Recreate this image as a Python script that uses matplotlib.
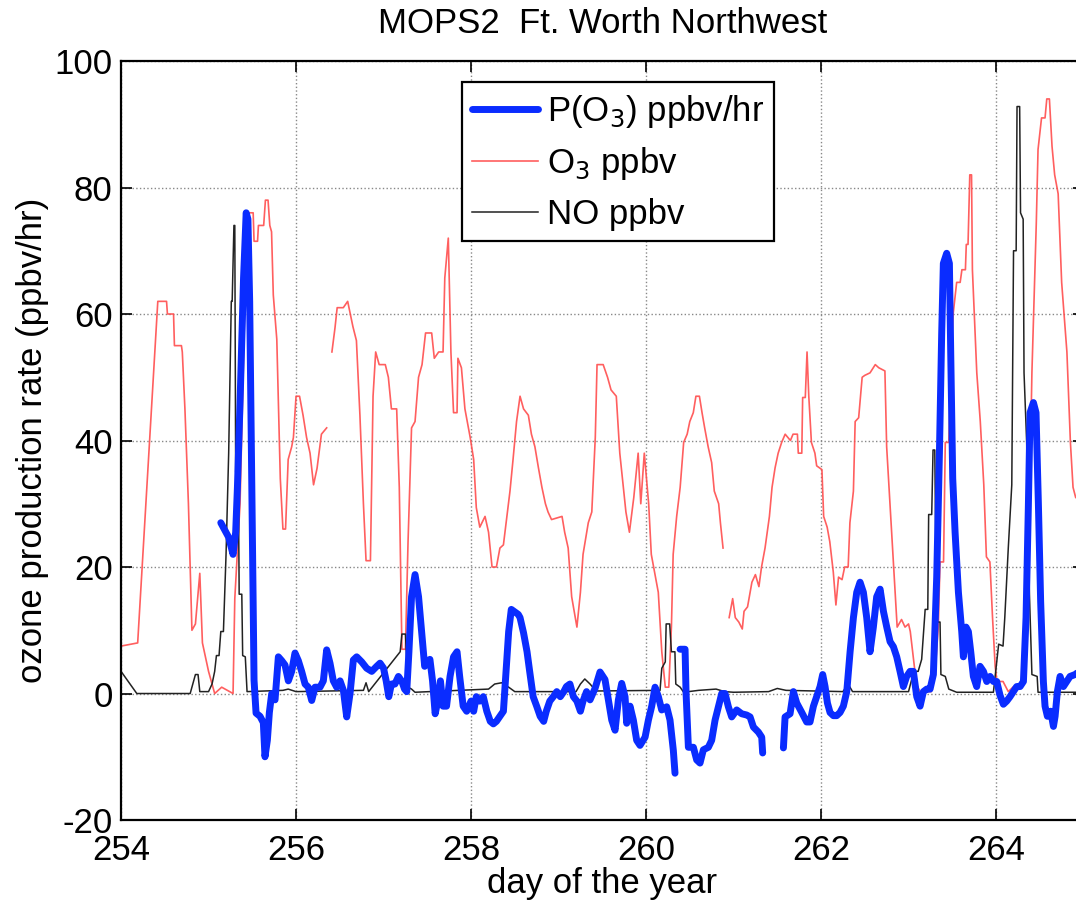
import numpy as np
import matplotlib
matplotlib.use("Agg")
import matplotlib.pyplot as plt

nan = np.nan

# O3 (ppbv), red thin line
o3_day = [254.00, 254.19, 254.42, 254.52, 254.53, 254.60, 254.61, 254.69, 254.70, 254.73,
          254.77, 254.81, 254.85, 254.90, 254.93, 255.00, 255.05, 255.07, 255.15, 255.28,
          255.30, 255.36, 255.44, 255.51, 255.52, 255.56, 255.57, 255.63, 255.65, 255.68,
          255.70, 255.72, 255.74, 255.78, 255.82, 255.85, 255.88, 255.91, 255.95, 255.97,
          256.00, 256.04, 256.08, 256.12, 256.16, 256.20, 256.24, 256.29, 256.35, 256.38,
          256.41, 256.445, 256.47, 256.54, 256.59, 256.62, 256.65, 256.69, 256.73, 256.77,
          256.80, 256.85, 256.88, 256.91, 256.95, 257.02, 257.055, 257.09, 257.15, 257.18,
          257.21, 257.25, 257.28, 257.32, 257.36, 257.40, 257.44, 257.48, 257.55, 257.58,
          257.63, 257.68, 257.70, 257.74, 257.77, 257.80, 257.84, 257.85, 257.89, 257.93,
          257.99, 258.03, 258.06, 258.10, 258.16, 258.20, 258.24, 258.29, 258.33, 258.37,
          258.41, 258.445, 258.48, 258.52, 258.56, 258.60, 258.655, 258.69, 258.73, 258.77,
          258.81, 258.85, 258.88, 258.92, 259.04, 259.07, 259.11, 259.15, 259.21, 259.25,
          259.28, 259.34, 259.38, 259.42, 259.44, 259.51, 259.56, 259.60, 259.66, 259.70,
          259.74, 259.77, 259.81, 259.86, 259.91, 259.94, 259.98, 260.03, 260.06, 260.10,
          260.14, 260.18, 260.22, 260.26, 260.29, 260.31, 260.35, 260.39, 260.43, 260.47,
          260.50, 260.54, 260.57, 260.61, 260.64, 260.67, 260.71, 260.75, 260.78, 260.83,
          260.85, 260.88, 260.92, 260.95, 260.99, 261.02, 261.06, 261.10, 261.12, 261.16,
          261.21, 261.25, 261.29, 261.32, 261.36, 261.41, 261.44, 261.475, 261.51, 261.55,
          261.59, 261.65, 261.68, 261.73, 261.74, 261.78, 261.79, 261.82, 261.84, 261.86,
          261.89, 261.93, 261.95, 262.01, 262.03, 262.07, 262.10, 262.14, 262.17, 262.20,
          262.24, 262.27, 262.31, 262.33, 262.37, 262.39, 262.43, 262.47, 262.50, 262.56,
          262.62, 262.66, 262.73, 262.75, 262.79, 262.83, 262.87, 262.92, 262.96, 263.00,
          263.02, 263.06, 263.09, 263.13, 263.26, 263.30, 263.34, 263.36, 263.40, 263.42,
          263.46, 263.49, 263.51, 263.55, 263.59, 263.61, 263.65, 263.66, 263.68, 263.70,
          263.72, 263.73, 263.78, 263.82, 263.86, 263.89, 263.93, 263.96, 263.99, 264.01,
          264.08, 264.14, 264.20, 264.27, 264.31, 264.35, 264.38, 264.41, 264.46, 264.48,
          264.52, 264.56, 264.58, 264.61, 264.64, 264.67, 264.71, 264.75, 264.81, 264.85,
          264.88, 264.91, 265.00]
o3_ppbv = [7.5, 8, 62, 62, 60, 60, 55, 55, 54, 45,
           30, 10, 11, 19, 8, 3.5, 1, 0, 1, 0,
           15, 30, 76, 76, 71.5, 71.5, 74, 74, 78, 78,
           74, 73, 63, 56, 34, 26, 26, 37, 39, 40.5,
           47, 47, 44, 40.5, 38, 33, 35.6, 41, 42, nan,
           54, 57.8, 61, 61, 62, 60, 58, 55.8, 44, 30,
           21, 21, 47, 54, 52, 52, 50, 45, 45, 32.6,
           7, 7, 24, 42, 43, 50, 52, 57, 57, 53,
           54, 54, 65.7, 72, 54, 44.4, 44.4, 53, 51.5, 45,
           40.5, 37, 29.4, 26.3, 28, 25.5, 20, 20, 23, 23.5,
           28, 32, 37, 43, 47, 45, 44, 41, 39, 35.7,
           32.6, 30, 28.7, 27.5, 28, 25.5, 23, 15.3, 10.5, 16,
           22, 27, 28.7, 40.5, 52, 52, 50, 48, 47, 38,
           32.6, 28.7, 25.5, 31, 38, 30, 38, 30, 22, 19,
           16, 6.6, 1, 1, 10.5, 22, 28, 32.6, 39.7, 41,
           43, 44.4, 47, 47, 44.4, 42, 39, 36.5, 32, 30,
           27, 23, nan, 12, 15, 12, 11.3, 10.2, 13, 13.7,
           17.6, 18.8, 16.9, 20, 23, 28, 32.6, 35.7, 38, 39.7,
           41, 40, 41, 41, 38, 38, 46.8, 46.8, 54, 47,
           39.7, 38, 36, 35.4, 28, 26.3, 24, 19.2, 14, 18.4,
           18, 20, 20, 27, 32, 43, 43.6, 50, 50.3, 50.7,
           52, 51.5, 51, 39, 29.4, 20, 10.5, 11.7, 10.5, 11,
           9.8, 5, 1.5, 0.3, 0.3, 2.7, 10.5, 20.8, 20.8, 39.7,
           39.7, 54, 60, 65, 65, 67, 67, 71, 71, 82,
           82, 67, 50.7, 43, 33, 21.6, 20.8, 12, 4.3, 1.9,
           1.9, 0.3, 1.1, 1.1, 1.9, 13.7, 28, 50.7, 74.3, 86,
           91, 91, 94, 94, 86.5, 82, 79, 65, 54, 39.7,
           32.6, 31, 30]

# NO (ppbv), black thin line
no_day = [254.00, 254.18, 254.79, 254.83, 254.85, 254.88, 254.90, 255.00, 255.04, 255.07,
          255.09, 255.12, 255.14, 255.17, 255.20, 255.23, 255.26, 255.27, 255.29, 255.30,
          255.31, 255.34, 255.35, 255.38, 255.39, 255.42, 255.44, 255.85, 255.91, 256.00,
          256.77, 256.80, 256.83, 257.19, 257.21, 257.25, 257.28, 257.32, 257.36, 258.20,
          258.27, 258.35, 258.43, 258.50, 259.20, 259.25, 259.30, 259.36, 259.43, 260.16,
          260.18, 260.22, 260.23, 260.27, 260.29, 260.33, 260.34, 260.39, 260.43, 260.60,
          260.80, 260.90, 261.00, 261.40, 261.50, 261.60, 262.25, 262.31, 262.36, 263.00,
          263.06, 263.11, 263.15, 263.19, 263.22, 263.23, 263.265, 263.28, 263.30, 263.32,
          263.36, 263.37, 263.42, 263.46, 263.55, 263.97, 264.03, 264.08, 264.10, 264.14,
          264.18, 264.20, 264.23, 264.24, 264.27, 264.28, 264.31, 264.32, 264.35, 264.38,
          264.41, 264.47, 264.48, 265.00]
no_ppbv = [3.5, 0, 0, 2, 3, 3, 0.3, 0.3, 1.5, 3.5,
           6, 6, 9.8, 9.8, 22, 38, 62, 62, 74, 74,
           35, 35, 15.7, 15.7, 6, 5.8, 0.3, 0.5, 0.7, 0.3,
           0.5, 1.7, 0.3, 6.6, 9.4, 9.4, 1, 0.7, 0.2, 0.7,
           1.5, 1.7, 1, 0.3, 0.3, 1.5, 2.3, 1.5, 0.4, 0.5,
           4, 5, 11, 11, 6.6, 6.6, 1.5, 1, 0.2, 0.5,
           0.7, 0.3, 0.2, 0.3, 0.8, 0.5, 0.3, 1.5, 0.3, 0.3,
           3.5, 3.5, 5.4, 13.3, 13.3, 28.3, 28.3, 38.5, 38.5, 11.3,
           11.3, 3, 2.7, 0.7, 0.2, 0.2, 7.8, 7.5, 12, 23,
           33, 70, 70, 92.8, 92.8, 76, 75, 50.7, 39.7, 16.5,
           3, 2.7, 0.2, 0.2]

# P(O3) (ppbv/hr), thick blue line
po3_day = [255.14, 255.23, 255.28, 255.31, 255.33, 255.36, 255.40, 255.43, 255.45, 255.47,
           255.49, 255.51, 255.52, 255.543, 255.588, 255.626, 255.645, 255.672, 255.695, 255.722,
           255.76, 255.798, 255.836, 255.874, 255.912, 255.95, 255.988, 256.026, 256.064, 256.103,
           256.14, 256.179, 256.217, 256.274, 256.312, 256.35, 256.388, 256.426, 256.464, 256.503,
           256.541, 256.579, 256.617, 256.655, 256.693, 256.75, 256.807, 256.865, 256.922, 256.96,
           257.00, 257.03, 257.06, 257.09, 257.13, 257.17, 257.21, 257.24, 257.265, 257.29,
           257.32, 257.36, 257.40, 257.44, 257.47, 257.49, 257.53, 257.56, 257.59, 257.62,
           257.65, 257.68, 257.72, 257.76, 257.80, 257.84, 257.87, 257.91, 257.95, 258.00,
           258.03, 258.06, 258.10, 258.14, 258.18, 258.22, 258.255, 258.29, 258.33, 258.37,
           258.396, 258.43, 258.46, 258.50, 258.54, 258.56, 258.60, 258.64, 258.67, 258.71,
           258.75, 258.79, 258.83, 258.86, 258.90, 258.94, 258.98, 259.02, 259.06, 259.09,
           259.13, 259.17, 259.21, 259.25, 259.28, 259.32, 259.36, 259.417, 259.474, 259.531,
           259.57, 259.608, 259.646, 259.684, 259.722, 259.76, 259.779, 259.817, 259.855, 259.893,
           259.931, 259.989, 260.027, 260.065, 260.103, 260.141, 260.179, 260.236, 260.274, 260.312,
           260.331, 260.36, 260.389, 260.446, 260.457, 260.484, 260.541, 260.579, 260.617, 260.655,
           260.712, 260.75, 260.789, 260.827, 260.865, 260.903, 260.941, 260.979, 261.036, 261.093,
           261.15, 261.189, 261.227, 261.284, 261.322, 261.333, 261.45, 261.57, 261.589, 261.646,
           261.684, 261.722, 261.78, 261.836, 261.874, 261.913, 261.95, 261.989, 262.019, 262.046,
           262.073, 262.103, 262.141, 262.179, 262.217, 262.255, 262.294, 262.332, 262.37, 262.408,
           262.446, 262.484, 262.522, 262.56, 262.598, 262.636, 262.675, 262.713, 262.751, 262.789,
           262.827, 262.865, 262.903, 262.941, 262.979, 263.017, 263.055, 263.094, 263.132, 263.17,
           263.208, 263.246, 263.284, 263.322, 263.353, 263.379, 263.398, 263.436, 263.467, 263.482,
           263.505, 263.532, 263.57, 263.608, 263.627, 263.657, 263.684, 263.711, 263.741, 263.779,
           263.817, 263.856, 263.894, 263.932, 263.97, 264.008, 264.046, 264.084, 264.122, 264.16,
           264.198, 264.236, 264.275, 264.313, 264.343, 264.37, 264.389, 264.427, 264.457, 264.484,
           264.51, 264.541, 264.56, 264.587, 264.625, 264.656, 264.675, 264.701, 264.732, 264.77,
           264.808, 264.846, 264.903, 265.00]
po3_rate = [27, 24.7, 22, 25.5, 32.6, 46, 65.7, 76, 75, 62,
            38, 14.5, 2.1, -3.1, -3.6, -4.6, -10, -7.4, -3, 0,
            -1, 5.8, 5.2, 4.5, 2, 3.5, 6.4, 5.2, 3.5, 1.5,
            1, -1.1, 1, 1, 2, 6.9, 4.8, 2, 1, 2,
            0.5, -3.7, 0, 5.3, 5.8, 5, 4, 3.5, 4.3, 4.8,
            4, 2, -0.5, 1.5, 1.5, 2.7, 1.9, 0.7, 0.3, 6.6,
            15.3, 18.8, 15.3, 9, 4.3, 5, 5.4, 2, -3.2, -1.2,
            2, -2, -2, 2.7, 5.8, 6.6, 2.7, -2, -2.8, -1.2,
            -2.8, -0.5, -1.2, -0.5, -2.8, -4.4, -4.8, -4.4, -3.6, -2.8,
            2.7, 9.8, 13.3, 12.9, 12.5, 12, 9.6, 6.6, 3.5, -0.5,
            -2, -3.6, -4.4, -2.8, -1.2, -0.5, 0.3, -0.5, 0.3, 1.1,
            1.5, -0.5, -1.2, -2.8, -1.2, 0.3, -1, 0.8, 3.4, 2.2,
            -1, -4.2, -5.8, -1, 1.6, -0.5, -4.7, -2, -4.2, -7.4,
            -8.2, -6.9, -4.2, -2, 1, -0.5, -2.6, -2.1, -4.2, -9,
            -12.6, nan, 7, 7, 0.2, -8.5, -8.5, -10.5, -11, -8.9,
            -8.5, -7.4, -4.2, -2.1, 0, 0, -2.1, -3.7, -2.6, -3.2,
            -3.4, -3.7, -5.3, -6.1, -6.9, -9.4, nan, -8.6, -3.7, -3.2,
            0.3, -1.5, -3, -4.5, -4.5, -2, -0.5, 1.1, 3, 1.1,
            -1.5, -3, -3.5, -3.5, -3, -2, 0.3, 6.6, 12, 16,
            17.6, 16, 12, 6.6, 10.5, 15.3, 16.5, 13, 10.5, 8.2,
            7.4, 5.8, 3.5, 1.1, 2.7, 3.5, 3.5, -0.5, -2, 0.3,
            0.7, 0.7, 3, 18.4, 38, 57, 68, 69.6, 68, 54,
            34, 25.5, 16, 9.8, 5.8, 10.5, 9.8, 6.6, 2.7, 1.1,
            4.3, 3.5, 1.9, 2.7, 1.9, 1.9, -0.3, -1.7, -1.2, -0.5,
            0.3, 1.1, 1.1, 1.9, 12, 30, 44.4, 46, 44.4, 30,
            14.5, 1.9, -2, -3.6, -2.8, -5.2, -3.6, 0.3, 2.7, 1.1,
            1.9, 2.7, 3, 4]

plt.rcParams['font.family'] = ['Liberation Sans', 'DejaVu Sans']
plt.rcParams['axes.unicode_minus'] = False

fig = plt.figure(figsize=(10.76, 9.05), dpi=100)
ax = fig.add_axes([0.1125, 0.0939, 0.8945, 0.8387])

ax.plot(po3_day, po3_rate, color='#0a2cff', lw=5, solid_capstyle='round',
        solid_joinstyle='round', label='P(O$_3$) ppbv/hr', zorder=3)
ax.plot(o3_day, o3_ppbv, color='#ff4d4d', lw=1.2, alpha=0.9, label='O$_3$ ppbv', zorder=2)
ax.plot(no_day, no_ppbv, color='#222222', lw=1.1, label='NO ppbv', zorder=2)

ax.set_xlim(254, 265)
ax.set_ylim(-20, 100)
ax.set_xticks(np.arange(254, 265, 2))
ax.set_yticks(np.arange(-20, 101, 20))
ax.tick_params(direction='in', length=8, width=1.2, labelsize=25,
               top=True, right=True, pad=6)
ax.tick_params(axis='x', pad=10)
ax.grid(True, linestyle=':', color='#888888', lw=1.0)
for s in ax.spines.values():
    s.set_linewidth(1.6)

ax.set_title('MOPS2  Ft. Worth Northwest', fontsize=25, pad=20)
ax.set_xlabel('day of the year', fontsize=25, labelpad=0)
ax.set_ylabel('ozone production rate (ppbv/hr)', fontsize=25, labelpad=4)

leg = ax.legend(loc='upper left', bbox_to_anchor=(0.354, 0.972), borderaxespad=0,
                fontsize=25, fancybox=False, framealpha=1, edgecolor='black',
                handlelength=1.9, handletextpad=0.25, labelspacing=0.45,
                borderpad=0.3)
leg.get_frame().set_linewidth(1.6)

fig.savefig('out.png', dpi=100)
